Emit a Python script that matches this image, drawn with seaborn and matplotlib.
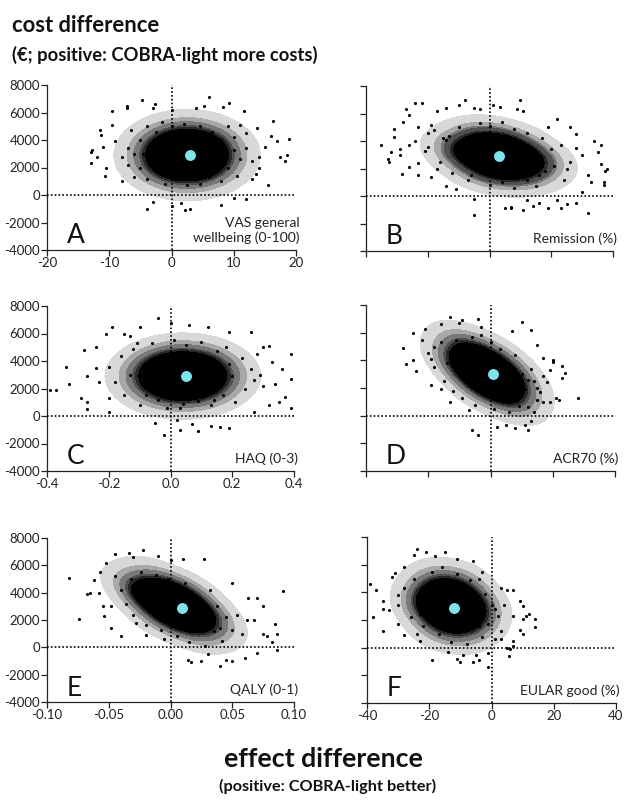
import matplotlib
matplotlib.use("Agg")
from matplotlib import pyplot as plt
from matplotlib.colors import ListedColormap
import seaborn as sns

# single points
a_x = [-13, -13, -12.8, -12, -11.5, -11.3, -11, -10.7, -10.5, -9.5, -9.5, -9, -7.2, -7.2, -8, -4.7, -4, -2.7, -3, -3, 0, 0, 1.5, 2.2, 3, 4, 5.2, 6, 8, 8.3, 9.3, 11.7, 10, 12, 13.7, 14, 15.5, 16.3, 16, 17, 17.5, 18.2, 18.8, 18.6, 15, 14, 13, 13.5, 11, 12,
       -6, -5, -5, -4.5, -4, -4, -3, -3, -2.5, -2, -2, -1.5, -1, -1, -0.5, 0, 0, 0.5, 1, 1, 1.5, 2, 2, 2.5, 3, 3, 3.5, 4, 4.5, 4.5, 5, 5, 6, 6, 6.5, 7, 7, 8, 8, 8.5, 9, 9, 10, 10, 10.5, 11, -7, -7, -8, -6.5, -6, 12, 13]
a_y = [3100, 2300, 3300, 2800, 4700, 4400, 3500, 1400, 2000, 6100, 5100, 3900, 6500, 6300, 1000, 6900, -1000, 6600, 6300, -500, 6200, -800, -600, -1100, -1000, 6300, 6500, 7100, -700, 6400, 6700, 6100, -200, -300, 4900, 2000, 700, 5400, 4300, 3900, 2800, 2500, 4100, 2900, 3500, 2800, 1200, 1500, 5100, 4500,
       3000, 4000, 2000, 3000, 5000, 1200, 3800, 2400, 4600, 1600, 3100, 5300, 800, 4200, 2400, 3400, 5000, 1200, 2900, 4300, 2000, 3500, 5200, 700, 2500, 4200, 1500, 3200, 5000, 800, 2300, 3900, 2900, 1300, 4600, 3400, 2100, 4000, 1000, 2800, 5000, 2000, 3300, 4200, 1400, 2600, 3400, 2200, 2800, 4700, 1300, 3400, 2500]

b_x = [-35, -33, -32.5, -32, -31, -31, -29, -29, -28.5, -28, -27, -26, -26, -26, -24, -23, -23, -23, -22, -20, -19, -19, -17, -17, -14, -14, -13, -11, -10, -10, -8, -6, -5, -5, -3, -5, 1, 3.5, 5, 7, 7, 9, 10, 11, 11, 12, 14, 16, 19, 19, 22, 22, 23, 25, 25, 26, 28, 28, 28, 30, 30, 32, 32, 34, 33, 35, 36, 36, 37, 37.5, 38, 37,
       -24, -21, -18, -16, -14, -12, -10, -8, -7, -5, -3, -2, 0, 0, 2, 4, 4, 6, 8, 8, 10, 12, 12, 14, 15, 17, 18, 20, 21, 23, 24, 26, -20, -15, -11, -6, -1, 3, 6, 9, 13, 16]
b_y = [3700, 2700, 2500, 3200, 4300, 4900, 3000, 3400, 1600, 5400, 6300, 2100, 3700, 5900, 6800, 5000, 1500, 2400, 6800, 4600, 5200, 1400, 2000, 6200, 6400, 700, 4400, 500, 6600, 3000, 7000, 1500, -200, 6400, 6300, -1400, 6600, 6500, -900, -800, -900, 6300, 7000, 6200, -1000, -300, -700, -500, -900, 5000, -300, 5600, -900, -600, 2000, 5000, -500, 3500, 4500, 300, 3000, -1200, 1500, 4000, 1000, 3200, 3700, 2300, 1000, 1800, 2000, 800,
       4000, 3300, 4800, 2500, 4100, 1700, 5000, 3000, 1200, 4500, 5300, 2000, 5100, 800, 3800, 5400, 1000, 2200, 4900, 600, 3400, 4600, 1200, 3000, 700, 4200, 1800, 3400, 2200, 3700, 1200, 2500, 3600, 4200, 3100, 3500, 1800, 3600, 2700, 2000, 2500, 1500]

c_x = [-0.39, -0.37, -0.34, -0.33, -0.29, -0.27, -0.27, -0.28, -0.27, -0.24, -0.24, -0.23, -0.21, -0.19, -0.2, -0.2, -0.15, -0.13, -0.1, -0.05, -0.04, -0.02, 0, 0.02, 0.03, 0.06, 0.07, 0.09, 0.12, 0.13, 0.16, 0.19, 0.19, 0.26, 0.3, 0.32, 0.32, 0.33, 0.36, 0.37, 0.39, 0.39, 0.39, 0.35, 0.34, 0.3, 0.28, 0.27,
       -0.2, -0.18, -0.16, -0.15, -0.13, -0.12, -0.1, -0.09, -0.07, -0.06, -0.04, -0.03, -0.01, 0.01, 0.02, 0.04, 0.05, 0.07, 0.09, 0.1, 0.12, 0.13, 0.15, 0.17, 0.18, 0.2, 0.21, 0.23, 0.24, 0.26, 0.27, 0.29, -0.11, -0.08, -0.02, 0.03, 0.08, 0.14, 0.19]
c_y = [1900, 1900, 3600, 2300, 1300, 1000, 500, 4800, 2900, 5000, 3500, 2500, 6000, 6500, 1300, 300, 6000, 5800, 6500, -500, 7100, -1400, 6800, -300, -1000, 6600, -600, -1100, 6500, -700, -800, -900, 6100, 6100, 5000, 5100, 800, 3900, 3400, 1400, 4500, 2700, 600, 1000, 2300, 2200, 4500, 300,
       3600, 2500, 4400, 1500, 3000, 4900, 800, 3700, 2200, 5300, 1200, 4400, 600, 5500, 2000, 900, 5200, 3800, 1100, 5400, 2300, 800, 4700, 1500, 5000, 2900, 1000, 4200, 2000, 3400, 2600, 3000, 5300, 1500, 3500, 600, 4500, 1200, 3800]

d_x = [-28, -27, -25, -25, -24, -22, -21, -19, -19, -18, -16, -16, -13, -13, -10, -9, -7, -6, -4, -4, -3, 2, 5, 7, 8, 10, 11, 12, 13, 13, 15, 17, 17, 19, 19, 20, 20, 21, 22, 23, 23, 24, 28, 18, 15, 14,
       -20, -18, -16, -15, -13, -12, -11, -10, -9, -8, -7, -6, -5, -4, -3, -2, -1, 0, 1, 2, 3, 4, 5, 6, 7, 8, 9, 10, 11, 12, 13, 14, 15, 16, 17, -14, -10, -6, -2, 1, 4, 8, 12]
d_y = [4900, 3700, 6000, 4000, 3200, 5500, 6300, 2200, 4100, 5000, 1900, 6600, 7100, 1000, 6700, 6900, 400, -1000, 7000, -1400, 6400, -800, -700, 6100, -900, 6800, -700, -1000, -400, 6200, 5100, 4200, 1000, 1000, 3300, 3900, 4000, 1300, 1100, 3600, 2700, 3100, 1300, 2400, 2000, 300,
       4500, 3500, 5300, 2500, 4600, 1800, 5500, 3000, 1300, 4900, 2200, 5700, 800, 4200, 5800, 1500, 3300, 5300, 500, 2800, 4800, 1000, 3700, 300, 2300, 4400, 700, 3000, 1900, 600, 3400, 2500, 1100, 1700, 2900, 3800, 3500, 4500, 2600, 4200, 1800, 1700, 2600]

e_x = [-0.082, -0.074, -0.068, -0.065, -0.062, -0.058, -0.057, -0.055, -0.054, -0.052, -0.048, -0.048, -0.045, -0.045, -0.04, -0.034, -0.03, -0.028, -0.022, -0.02, -0.01, -0.005, 0, 0.01, 0.014, 0.017, 0.025, 0.027, 0.03, 0.04, 0.045, 0.05, 0.05, 0.06, 0.063, 0.07, 0.07, 0.075, 0.075, 0.078, 0.085, 0.086, 0.086, 0.091, 0.082, 0.068,
       -0.04, -0.036, -0.032, -0.03, -0.026, -0.024, -0.02, -0.018, -0.015, -0.012, -0.008, -0.005, -0.002, 0.002, 0.005, 0.008, 0.012, 0.015, 0.018, 0.022, 0.025, 0.028, 0.032, 0.035, 0.038, 0.042, 0.045, 0.05, 0.054, 0.058, 0.062, -0.02, -0.01, 0, 0.01, 0.02, 0.03, 0.04]
e_y = [5100, 2100, 3900, 4000, 4900, 4000, 5500, 3000, 2300, 6200, 3000, 1450, 6800, 5200, 800, 6900, 6600, 1800, 7100, 900, 6700, 600, 6400, 6500, -900, -1100, -1000, 6500, -500, -1400, -900, 4700, -1000, -800, 3600, 3600, -400, 3000, 1000, 800, 1700, 1000, -200, 4100, 400, 2000,
       4200, 3200, 5000, 2400, 3800, 5500, 1600, 4500, 2800, 5300, 1300, 4000, 5000, 2200, 800, 3300, 4700, 400, 1700, 3500, 2300, 100, 4200, 1200, 3000, 500, 2200, 1300, 2400, 1000, 2000, 2900, 3400, 2200, 4400, 2700, 1800, 1400]

f_x = [-39, -38, -37, -35, -35, -35, -33, -32, -31, -30, -30, -28, -28, -25, -24, -24, -23, -21, -19, -18, -15, -14, -11, -11, -10, -9, -6, -6, -5, -3, -4, -1, -1, 1, 3, 3, 5, 5, 7, 7, 6, 7, 9, 9, 10, 10, 10, 11, 12, 14, 14, 7, 5.5,
       -30, -28, -26, -25, -24, -22, -21, -20, -19, -18, -17, -16, -15, -14, -13, -12, -11, -10, -9, -8, -7, -6, -5, -4, -3, -2, -1, 0, 1, 2, 3, 4, -20, -16, -12, -8, -4, -23]
f_y = [4600, 2200, 4200, 3400, 1200, 2800, 2700, 5100, 5400, 1700, 3800, 5800, 900, 6700, 7100, 1000, 500, 6900, -900, 6600, 6900, -300, 6400, -800, -1000, -500, -1000, 6300, -500, 5500, -900, -1400, -400, 2800, 4300, 600, 0, 4200, 4200, 2300, -100, 500, 3400, 1300, 3000, 1000, 2100, 2300, 2400, 2100, 1500, 100, -600,
       3100, 4300, 2200, 5000, 3300, 1600, 4400, 2600, 5500, 3600, 1000, 5800, 2300, 4700, 400, 3400, 5300, 1300, 4000, 300, 4900, 2200, 3300, 5000, 800, 3900, 1700, 3100, 600, 2300, 1200, 3100, 3100, 4200, 2000, 2500, 1600, 2400]

# where each cloud is solid black, read by eye: the individual dots can't be told
# apart there, so the density shading comes from a kde of these spots
a_core_x = [2.5, 5.5, -0.5, 2.5, 2.5, 4.6, 0.4, 4.6, 0.4, 8.5, -3.5, 2.5, 2.5, 7.7, -2.7, 7.7, -2.7, 5.5, -0.5, 5.5, -0.5]
a_core_y = [2900, 2900, 2900, 3750, 2050, 3500, 3500, 2300, 2300, 2900, 2900, 4600, 1200, 3750, 3750, 2050, 2050, 4370, 4370, 1430, 1430]
b_core_x = [3, 9.5, -3.5, 3, 3, 7.6, -1.6, 7.6, -1.6, 16, -10, 3, 3, 14, -8, 14, -8, 9.5, -3.5, 9.5, -3.5]
b_core_y = [2900, 2700, 3100, 3650, 2150, 3300, 3750, 2000, 2500, 2500, 3300, 4400, 1400, 3000, 3800, 1900, 2700, 3900, 4400, 1500, 1700]
c_core_x = [0.04, 0.105, -0.025, 0.04, 0.04, 0.085, -0.005, 0.085, -0.005, 0.17, -0.09, 0.04, 0.04, 0.15, -0.07, 0.15, -0.07, 0.105, -0.025, 0.105, -0.025]
c_core_y = [2900, 2900, 2900, 3700, 2100, 3450, 3450, 2350, 2350, 2900, 2900, 4500, 1300, 3700, 3700, 2100, 2100, 4300, 4300, 1500, 1500]
d_core_x = [-1, 4.5, -6.5, -1, -1, 3, -5, 3, -5, 10, -12, -1, -1, 8.5, -10.5, 8.5, -10.5, 4.5, -6.5, 4.5, -6.5]
d_core_y = [3100, 2600, 3600, 3850, 2350, 3000, 4200, 1900, 2900, 2100, 4100, 4600, 1600, 3000, 4900, 1300, 3400, 4000, 5000, 1200, 2200]
e_core_x = [0.003, 0.018, -0.012, 0.003, 0.003, 0.014, -0.008, 0.014, -0.008, 0.033, -0.027, 0.003, 0.003, 0.029, -0.023, 0.029, -0.023, 0.018, -0.012, 0.018, -0.012]
e_core_y = [3100, 2600, 3600, 3800, 2400, 3250, 3950, 2000, 2950, 2100, 4100, 4500, 1700, 2800, 4600, 1500, 3500, 4000, 5000, 1200, 2200]
f_core_x = [-13, -8, -18, -13, -13, -9.5, -16.5, -9.5, -16.5, -3, -23, -13, -13, -4.5, -21.5, -4.5, -21.5, -8, -18, -8, -18]
f_core_y = [3000, 2850, 3150, 3850, 2150, 3500, 3800, 2300, 2600, 2700, 3300, 4700, 1300, 3400, 4100, 1900, 2600, 4500, 4800, 1300, 1500]

mean_x = [3, 3, 0.05, 0.7, 0.009, -12]
mean_y = [2900, 2900, 2900, 3000, 2900, 2900]

letters = ["A", "B", "C", "D", "E", "F"]
labels = ["VAS general\nwellbeing (0-100)", "Remission (%)", "HAQ (0-3)", "ACR70 (%)", "QALY (0-1)", "EULAR good (%)"]
x_limits = [(-20, 20), (-40, 40), (-0.4, 0.4), (-40, 40), (-0.1, 0.1), (-40, 40)]
x_ticks = [[-20, -10, 0, 10, 20], [-40, -20, 0, 20, 40], [-0.4, -0.2, 0.0, 0.2, 0.4],
           [-40, -20, 0, 20, 40], [-0.10, -0.05, 0.00, 0.05, 0.10], [-40, -20, 0, 20, 40]]
x_ticklabels = [["-20", "-10", "0", "10", "20"], [], ["-0.4", "-0.2", "0.0", "0.2", "0.4"], [],
                ["-0.10", "-0.05", "0.00", "0.05", "0.10"], ["-40", "-20", "0", "20", "40"]]
y_ticks = [-4000, -2000, 0, 2000, 4000, 6000, 8000]
xs = [a_x, b_x, c_x, d_x, e_x, f_x]
ys = [a_y, b_y, c_y, d_y, e_y, f_y]
core_xs = [a_core_x, b_core_x, c_core_x, d_core_x, e_core_x, f_core_x]
core_ys = [a_core_y, b_core_y, c_core_y, d_core_y, e_core_y, f_core_y]

# axes boxes in pixels: left, right, top, bottom
boxes = [(47, 296, 85, 250), (366, 613, 86, 251), (47, 294, 306, 471),
         (366, 615, 305, 471), (47, 294, 538, 702), (367, 616, 537, 703)]

sns.set_style("white")
plt.rcParams["font.family"] = ["Lato", "DejaVu Sans"]
W, H = 637, 810
fig = plt.figure(figsize=(W / 100, H / 100), dpi=100)
# contourf colours go linearly with density, so the low bands use the first few entries
shades = ListedColormap(["#d8d8d8", "#a8a8a8", "#787878", "#505050", "#282828",
                         "black", "black", "black", "black", "black"])

for i in range(6):
    l, r, t, b = boxes[i]
    ax = fig.add_axes([l / W, 1 - b / H, (r - l) / W, (b - t) / H])
    sns.kdeplot(x=core_xs[i], y=core_ys[i], fill=True, bw_adjust=1.35,
                levels=[0.02, 0.04, 0.06, 0.09, 0.12, 0.16, 0.2, 0.25, 0.3, 0.36, 1.0],
                cmap=shades, ax=ax, zorder=1)
    sns.scatterplot(x=xs[i], y=ys[i], s=5, color="black", linewidth=0, ax=ax, zorder=2)
    ax.axhline(0, color="black", ls=(0, (1, 1.3)), lw=1.2, zorder=3)
    ax.axvline(0, color="black", ls=(0, (1, 1.3)), lw=1.2, zorder=3)
    sns.scatterplot(x=[mean_x[i]], y=[mean_y[i]], s=62, color="#7fe3ee", linewidth=0, ax=ax, zorder=4)

    ax.set_xlim(x_limits[i])
    ax.set_ylim(-4000, 8000)
    ax.set_xticks(x_ticks[i])
    ax.set_xticklabels(x_ticklabels[i])
    ax.set_yticks(y_ticks)
    if i % 2 == 0:
        ax.set_yticklabels([str(v) for v in y_ticks])
    else:
        ax.set_yticklabels([])
    ax.set_xlabel("")
    ax.set_ylabel("")
    ax.patch.set_alpha(0)
    sns.despine(ax=ax)
    for side in ["left", "bottom"]:
        ax.spines[side].set_color("#222222")
        ax.spines[side].set_linewidth(0.9)
    ax.tick_params(axis="both", length=4, width=0.9, color="#222222", labelsize=9.5, pad=1,
                   left=True, bottom=True, labelcolor="#222222")
    ax.text(0.08, 0.085, letters[i], transform=ax.transAxes, fontsize=19, color="#111111", va="center")
    ax.text(1.015, 0.035, labels[i], transform=ax.transAxes, fontsize=10, color="#222222",
            ha="right", va="bottom", linespacing=1.25)

fig.text(12 / W, 1 - 26 / H, "cost difference", fontsize=15.8, fontweight="bold", color="#111111", va="center")
fig.text(12 / W, 1 - 55 / H, "(€; positive: COBRA-light more costs)", fontsize=13.2, fontweight="bold",
         color="#111111", va="center")
fig.text(323 / W, 1 - 759 / H, "effect difference", fontsize=19.3, fontweight="bold", color="#111111",
         ha="center", va="center")
fig.text(328 / W, 1 - 786 / H, "(positive: COBRA-light better)", fontsize=11.7, fontweight="bold",
         color="#111111", ha="center", va="center")

fig.savefig("out.png", dpi=100)
